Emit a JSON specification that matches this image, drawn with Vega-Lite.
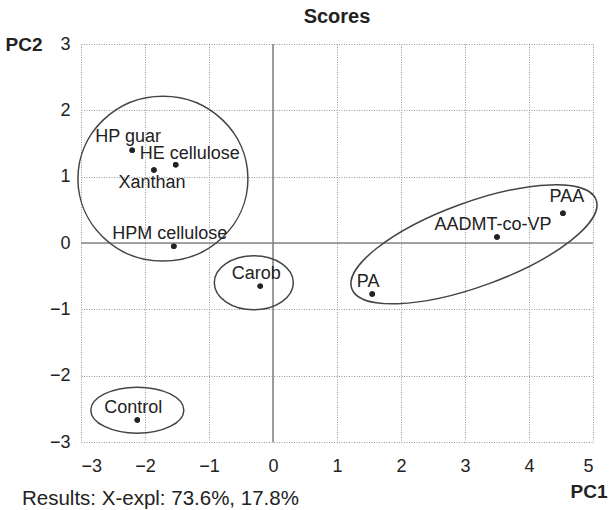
{
  "$schema": "https://vega.github.io/schema/vega-lite/v6.json",
  "autosize": {"type": "none"},
  "padding": {"left": 81, "top": 44, "right": 16, "bottom": 68},
  "width": 512,
  "height": 398,
  "background": "white",
  "title": {"text": "Scores", "fontSize": 20, "fontWeight": "bold", "color": "#222", "offset": 8, "anchor": "middle", "font": "Liberation Sans"},
  "config": {
    "font": "Liberation Sans",
    "view": {"stroke": null},
    "axis": {
      "domain": false,
      "ticks": false,
      "grid": true,
      "gridColor": "#999",
      "gridDash": [1, 1.5],
      "gridWidth": 1,
      "format": "d",
      "labelFont": "Liberation Sans",
      "labelFontSize": 18,
      "labelColor": "#222",
      "titleFont": "Liberation Sans",
      "titleFontSize": 19,
      "titleFontWeight": "bold",
      "titleColor": "#222"
    }
  },
  "datasets": {
    "scores": [
      {"name": "HP guar", "PC1": -2.2, "PC2": 1.4},
      {"name": "Xanthan", "PC1": -1.86, "PC2": 1.1},
      {"name": "HE cellulose", "PC1": -1.52, "PC2": 1.18},
      {"name": "HPM cellulose", "PC1": -1.55, "PC2": -0.05},
      {"name": "Carob", "PC1": -0.2, "PC2": -0.65},
      {"name": "Control", "PC1": -2.12, "PC2": -2.67},
      {"name": "PA", "PC1": 1.55, "PC2": -0.77},
      {"name": "AADMT-co-VP", "PC1": 3.5, "PC2": 0.09},
      {"name": "PAA", "PC1": 4.53, "PC2": 0.45}
    ],
    "groups": [
      {"group": "cellulose/gums", "PC1": -1.72, "PC2": 0.97},
      {"group": "carob", "PC1": -0.3, "PC2": -0.6},
      {"group": "control", "PC1": -2.12, "PC2": -2.52},
      {"group": "acrylic", "PC1": 3.14, "PC2": -0.02}
    ]
  },
  "layer": [
    {
      "data": {"name": "scores"},
      "mark": {"type": "point", "filled": true, "size": 30, "color": "#222", "opacity": 1},
      "encoding": {
        "x": {
          "field": "PC1", "type": "quantitative",
          "scale": {"domain": [-3, 5], "nice": false, "zero": false},
          "axis": {"values": [-3, -2, -1, 0, 1, 2, 3, 4, 5], "labelPadding": 15, "title": "PC1", "titleAngle": 0, "titleAlign": "right", "titleBaseline": "middle", "titleX": 526, "titleY": 49}
        },
        "y": {
          "field": "PC2", "type": "quantitative",
          "scale": {"domain": [-3, 3], "nice": false, "zero": false},
          "axis": {"values": [-3, -2, -1, 0, 1, 2, 3], "labelPadding": 11, "title": "PC2", "titleAngle": 0, "titleAlign": "left", "titleBaseline": "middle", "titleX": -76, "titleY": 0}
        }
      }
    },
    {
      "data": {"values": [{}]},
      "mark": {"type": "rule", "color": "#888", "strokeWidth": 1.6},
      "encoding": {"x": {"datum": 0, "type": "quantitative"}}
    },
    {
      "data": {"values": [{}]},
      "mark": {"type": "rule", "color": "#888", "strokeWidth": 1.6},
      "encoding": {"y": {"datum": 0, "type": "quantitative"}}
    },
    {
      "data": {"name": "scores"},
      "mark": {"type": "point", "filled": true, "size": 30, "color": "#222", "opacity": 1},
      "encoding": {
        "x": {"field": "PC1", "type": "quantitative"},
        "y": {"field": "PC2", "type": "quantitative"}
      }
    },
    {
      "data": {"name": "groups"},
      "transform": [{"filter": "datum.group === 'cellulose/gums'"}],
      "mark": {"type": "point", "filled": false, "fill": null, "color": "#444", "strokeWidth": 1.5, "opacity": 1, "size": 28900,
        "shape": "M -1 0 C -1 -0.5357 -0.5523 -0.97 0 -0.97 C 0.5523 -0.97 1 -0.5357 1 0 C 1 0.5357 0.5523 0.97 0 0.97 C -0.5523 0.97 -1 0.5357 -1 0 Z"},
      "encoding": {"x": {"field": "PC1", "type": "quantitative"}, "y": {"field": "PC2", "type": "quantitative"}}
    },
    {
      "data": {"name": "groups"},
      "transform": [{"filter": "datum.group === 'carob'"}],
      "mark": {"type": "point", "filled": false, "fill": null, "color": "#444", "strokeWidth": 1.5, "opacity": 1, "size": 6241,
        "shape": "M -1 0 C -1 -0.3778 -0.5523 -0.684 0 -0.684 C 0.5523 -0.684 1 -0.3778 1 0 C 1 0.3778 0.5523 0.684 0 0.684 C -0.5523 0.684 -1 0.3778 -1 0 Z"},
      "encoding": {"x": {"field": "PC1", "type": "quantitative"}, "y": {"field": "PC2", "type": "quantitative"}}
    },
    {
      "data": {"name": "groups"},
      "transform": [{"filter": "datum.group === 'control'"}],
      "mark": {"type": "point", "filled": false, "fill": null, "color": "#444", "strokeWidth": 1.5, "opacity": 1, "size": 8649,
        "shape": "M -1 0 C -1 -0.2734 -0.5523 -0.495 0 -0.495 C 0.5523 -0.495 1 -0.2734 1 0 C 1 0.2734 0.5523 0.495 0 0.495 C -0.5523 0.495 -1 0.2734 -1 0 Z"},
      "encoding": {"x": {"field": "PC1", "type": "quantitative"}, "y": {"field": "PC2", "type": "quantitative"}}
    },
    {
      "data": {"name": "groups"},
      "transform": [{"filter": "datum.group === 'acrylic'"}],
      "mark": {"type": "point", "filled": false, "fill": null, "color": "#444", "strokeWidth": 1.5, "opacity": 1, "size": 67600, "angle": 340,
        "shape": "M -1 0 C -1 -0.1789 -0.5523 -0.324 0 -0.324 C 0.5523 -0.324 1 -0.1789 1 0 C 1 0.1789 0.5523 0.324 0 0.324 C -0.5523 0.324 -1 0.1789 -1 0 Z"},
      "encoding": {"x": {"field": "PC1", "type": "quantitative"}, "y": {"field": "PC2", "type": "quantitative"}}
    },
    {
      "data": {"name": "scores"},
      "transform": [{"filter": "indexof(['HE cellulose', 'Xanthan', 'PAA', 'HP guar'], datum.name) < 0"}],
      "mark": {"type": "text", "fontSize": 18, "color": "#222", "dx": -4, "dy": -12, "baseline": "middle", "align": "center"},
      "encoding": {"x": {"field": "PC1", "type": "quantitative"}, "y": {"field": "PC2", "type": "quantitative"}, "text": {"field": "name"}}
    },
    {
      "data": {"name": "scores"},
      "transform": [{"filter": "datum.name === 'HP guar'"}],
      "mark": {"type": "text", "fontSize": 18, "color": "#222", "dx": -4, "dy": -13, "baseline": "middle", "align": "center"},
      "encoding": {"x": {"field": "PC1", "type": "quantitative"}, "y": {"field": "PC2", "type": "quantitative"}, "text": {"field": "name"}}
    },
    {
      "data": {"name": "scores"},
      "transform": [{"filter": "datum.name === 'HE cellulose'"}],
      "mark": {"type": "text", "fontSize": 18, "color": "#222", "dx": 14, "dy": -11, "baseline": "middle", "align": "center"},
      "encoding": {"x": {"field": "PC1", "type": "quantitative"}, "y": {"field": "PC2", "type": "quantitative"}, "text": {"field": "name"}}
    },
    {
      "data": {"name": "scores"},
      "transform": [{"filter": "datum.name === 'Xanthan'"}],
      "mark": {"type": "text", "fontSize": 18, "color": "#222", "dx": -2, "dy": 13, "baseline": "middle", "align": "center"},
      "encoding": {"x": {"field": "PC1", "type": "quantitative"}, "y": {"field": "PC2", "type": "quantitative"}, "text": {"field": "name"}}
    },
    {
      "data": {"name": "scores"},
      "transform": [{"filter": "datum.name === 'PAA'"}],
      "mark": {"type": "text", "fontSize": 18, "color": "#222", "dx": 4, "dy": -16, "baseline": "middle", "align": "center"},
      "encoding": {"x": {"field": "PC1", "type": "quantitative"}, "y": {"field": "PC2", "type": "quantitative"}, "text": {"field": "name"}}
    },
    {
      "data": {"values": [{}]},
      "mark": {"type": "text", "fontSize": 20.5, "color": "#222", "align": "left", "baseline": "middle", "dx": -59, "dy": 57},
      "encoding": {"x": {"datum": -3, "type": "quantitative"}, "y": {"datum": -3, "type": "quantitative"}, "text": {"value": "Results: X-expl: 73.6%, 17.8%"}}
    }
  ]
}
